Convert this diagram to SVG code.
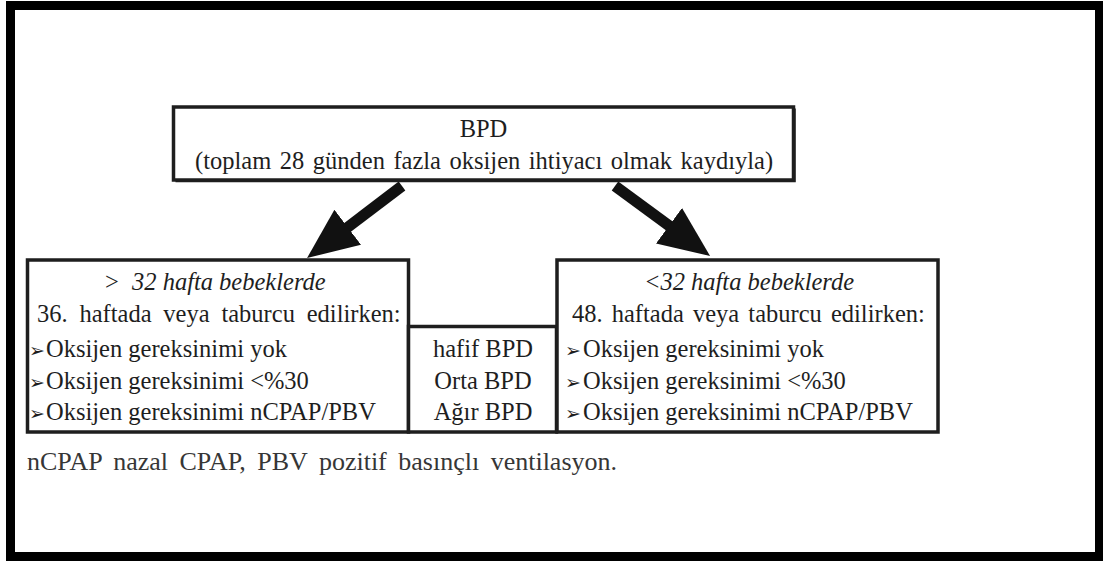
<svg xmlns="http://www.w3.org/2000/svg" width="1103" height="561" viewBox="0 0 1103 561">
<style>
.t{font-family:'Liberation Serif','DejaVu Serif',serif;font-size:24.5px;fill:#1e1e1e}
.i{font-style:italic}
.b{font-family:'DejaVu Sans',sans-serif;font-size:19px;fill:#1e1e1e}
.box{fill:#fff;stroke:#1e1e1e;stroke-width:3.5}
.fn{font-family:'Liberation Serif','DejaVu Serif',serif;font-size:26px;fill:#363636;word-spacing:5px}
.arr{stroke:#111;stroke-width:11;fill:none}
</style>
<defs>
<marker id="ah" markerUnits="userSpaceOnUse" viewBox="0 0 52 46" markerWidth="52" markerHeight="46" refX="1" refY="23" orient="auto">
<path d="M0,1 L51,23 L0,45 Z" fill="#111"/>
</marker>
</defs>
<rect width="1103" height="561" fill="#fff"/>
<rect x="10.5" y="5.5" width="1089" height="551" fill="none" stroke="#000" stroke-width="9"/>

<g id="connectors">
<line class="arr" x1="402" y1="186" x2="346.9" y2="227.8" marker-end="url(#ah)"/>
<line class="arr" x1="615" y1="186" x2="669.8" y2="226.3" marker-end="url(#ah)"/>
</g>

<g id="top">
<rect class="box" x="173.5" y="107" width="620" height="73"/>
<path d="M175.5,181.5 H795 V108.5" fill="none" stroke="#1e1e1e" stroke-width="1.5"/>
<text class="t" x="483.5" y="137" text-anchor="middle">BPD</text>
<text class="t" x="195" y="169" style="word-spacing:2.4px">(toplam 28 günden fazla oksijen ihtiyacı olmak kaydıyla)</text>
</g>

<g id="left">
<rect class="box" x="27.5" y="260" width="381" height="172"/>
<text class="t" x="105" y="290">&gt; <tspan class="i" x="132">32 hafta bebeklerde</tspan></text>
<text class="t" x="37" y="322" style="word-spacing:5.7px">36. haftada veya taburcu edilirken:</text>
<text class="t" y="357"><tspan class="b" x="29">➢</tspan><tspan x="46">Oksijen gereksinimi yok</tspan></text>
<text class="t" y="389"><tspan class="b" x="29">➢</tspan><tspan x="46">Oksijen gereksinimi &lt;%30</tspan></text>
<text class="t" y="420"><tspan class="b" x="29">➢</tspan><tspan x="46">Oksijen gereksinimi nCPAP/PBV</tspan></text>
</g>

<g id="middle">
<rect class="box" x="408.5" y="326.5" width="148" height="105.5"/>
<text class="t" x="483" y="357" text-anchor="middle">hafif BPD</text>
<text class="t" x="483" y="389" text-anchor="middle">Orta BPD</text>
<text class="t" x="483" y="420" text-anchor="middle">Ağır BPD</text>
</g>

<g id="right">
<rect class="box" x="557" y="260" width="381" height="172"/>
<text class="t i" x="749" y="290" text-anchor="middle">&lt;32 hafta bebeklerde</text>
<text class="t" x="572" y="322" style="word-spacing:3px">48. haftada veya taburcu edilirken:</text>
<text class="t" y="357"><tspan class="b" x="565">➢</tspan><tspan x="583">Oksijen gereksinimi yok</tspan></text>
<text class="t" y="389"><tspan class="b" x="565">➢</tspan><tspan x="583">Oksijen gereksinimi &lt;%30</tspan></text>
<text class="t" y="420"><tspan class="b" x="565">➢</tspan><tspan x="583">Oksijen gereksinimi nCPAP/PBV</tspan></text>
</g>

<text class="fn" x="27" y="470">nCPAP nazal CPAP, PBV pozitif basınçlı ventilasyon.</text>
</svg>
